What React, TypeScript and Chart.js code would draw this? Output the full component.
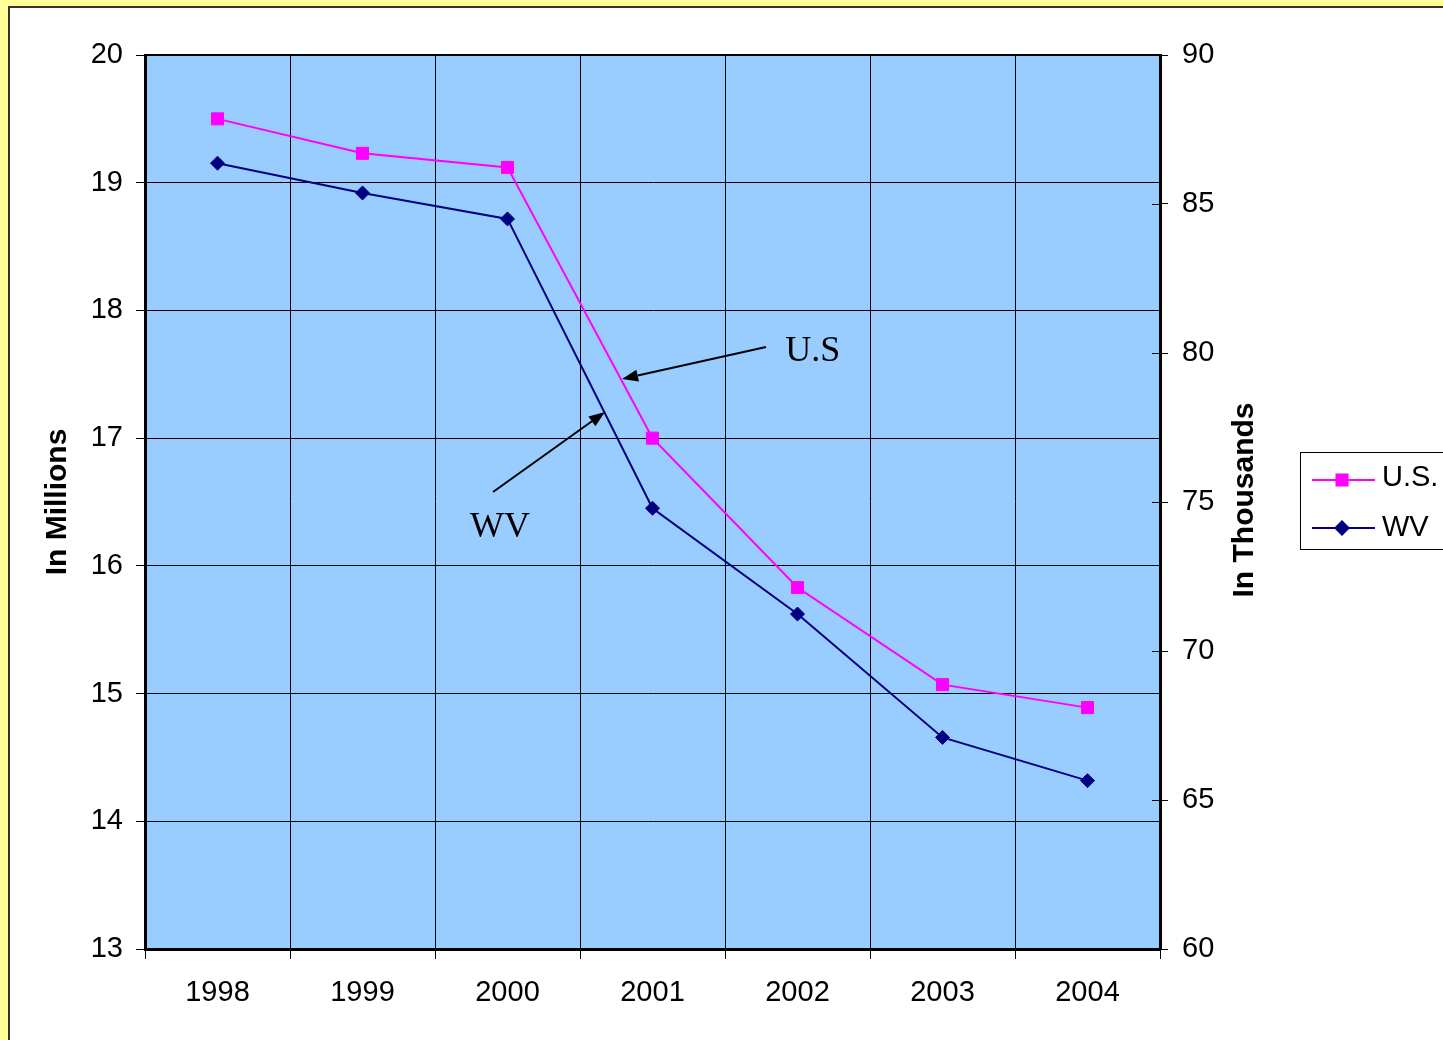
import React, { useEffect, useRef } from "react";
import { Chart, registerables } from "chart.js";

Chart.register(...registerables);

// ---- data ----
const years = ["1998", "1999", "2000", "2001", "2002", "2003", "2004"];
const usValues = [19.5, 19.23, 19.12, 17.0, 15.83, 15.07, 14.89]; // millions
const wvValues = [86.37, 85.37, 84.5, 74.79, 71.24, 67.1, 65.65]; // thousands
const seriesLabels = ["U.S.", "WV"];
const leftRange = [13, 20, 1];
const rightRange = [60, 90, 5];
const axisTitles = ["In Millions", "In Thousands"];
// call-out notes, in data units: [category index, left-axis value]
const noteTexts = ["U.S", "WV"];
const noteTextAt = [
  [3.915, 17.604],
  [1.742, 16.226],
];
const noteArrowFrom = [
  [3.783, 17.714],
  [1.9, 16.578],
];
const noteArrowTo = [
  [2.79, 17.463],
  [2.672, 17.205],
];

const SANS = "'Liberation Sans', Arial, sans-serif";
const SERIF = "'Liberation Serif', 'Times New Roman', serif";
const US_COLOR = "#FF00FF";
const WV_COLOR = "#000080";

const pagePlugin = {
  id: "pagePlugin",
  beforeDraw(chart: any) {
    const { ctx, width, height, chartArea: ca } = chart;
    ctx.save();
    ctx.fillStyle = "#FFFF99";
    ctx.fillRect(0, 0, width, height);
    ctx.fillStyle = "#FFFFFF";
    ctx.fillRect(8, 6, width - 8, height - 6);
    ctx.fillStyle = "#333333";
    ctx.fillRect(8, 6, width - 8, 2);
    ctx.fillRect(8, 6, 2, height - 6);
    ctx.fillStyle = "#99CCFF";
    ctx.fillRect(ca.left, ca.top, ca.right - ca.left, ca.bottom - ca.top);
    ctx.restore();
  },
  afterDraw(chart: any) {
    const { ctx, chartArea: ca } = chart;
    const xs = chart.scales.x;
    const ys = chart.scales.y;
    const y1 = chart.scales.y1;
    ctx.save();
    // top border
    ctx.fillStyle = "#000";
    ctx.fillRect(ca.left - 1, ca.top - 1, ca.right - ca.left + 2, 2);
    // inner tick marks on right axis
    ctx.strokeStyle = "#000";
    ctx.lineWidth = 1;
    y1.ticks.forEach((t: any) => {
      const py = Math.round(y1.getPixelForValue(t.value)) + 0.5;
      ctx.beginPath();
      ctx.moveTo(ca.right - 8, py);
      ctx.lineTo(ca.right, py);
      ctx.stroke();
    });
    // right axis title
    ctx.fillStyle = "#000";
    ctx.font = `bold 30px ${SANS}`;
    ctx.textAlign = "center";
    ctx.textBaseline = "middle";
    ctx.translate(1244.5, (ca.top + ca.bottom) / 2 - 2);
    ctx.rotate(-Math.PI / 2);
    ctx.fillText(axisTitles[1], 0, 0);
    ctx.setTransform(1, 0, 0, 1, 0, 0);

    // call-outs
    const px = (p: number[]) => [xs.getPixelForValue(p[0]), ys.getPixelForValue(p[1])];
    ctx.font = `36px ${SERIF}`;
    ctx.textAlign = "left";
    ctx.textBaseline = "alphabetic";
    noteTexts.forEach((txt, i) => {
      const [tx, ty] = px(noteTextAt[i]);
      ctx.fillStyle = "#000";
      ctx.fillText(txt, tx, ty);
      const [fx, fy] = px(noteArrowFrom[i]);
      const [ex, ey] = px(noteArrowTo[i]);
      const ang = Math.atan2(ey - fy, ex - fx);
      const headLen = 16;
      const headW = 6;
      const bx = ex - Math.cos(ang) * headLen;
      const by = ey - Math.sin(ang) * headLen;
      ctx.strokeStyle = "#000";
      ctx.lineWidth = 2;
      ctx.beginPath();
      ctx.moveTo(fx, fy);
      ctx.lineTo(bx, by);
      ctx.stroke();
      ctx.beginPath();
      ctx.moveTo(ex, ey);
      ctx.lineTo(bx + Math.sin(ang) * headW, by - Math.cos(ang) * headW);
      ctx.lineTo(bx - Math.sin(ang) * headW, by + Math.cos(ang) * headW);
      ctx.closePath();
      ctx.fill();
    });

    // legend
    const lx = ca.right + 140;
    const ly = 452;
    ctx.strokeStyle = "#000";
    ctx.lineWidth = 1;
    ctx.strokeRect(lx + 0.5, ly + 0.5, 200, 97);
    const rows = [480, 528];
    ctx.font = `29px ${SANS}`;
    ctx.textAlign = "left";
    ctx.textBaseline = "alphabetic";
    chart.data.datasets.forEach((ds: any, i: number) => {
      const ry = rows[i];
      ctx.strokeStyle = ds.borderColor;
      ctx.lineWidth = 2;
      ctx.beginPath();
      ctx.moveTo(lx + 12, ry);
      ctx.lineTo(lx + 75, ry);
      ctx.stroke();
      ctx.fillStyle = ds.backgroundColor;
      const cx = lx + 42;
      if (ds.pointStyle === "rect") {
        ctx.fillRect(cx - 6.5, ry - 6.5, 13, 13);
      } else {
        ctx.beginPath();
        ctx.moveTo(cx, ry - 8);
        ctx.lineTo(cx + 8, ry);
        ctx.lineTo(cx, ry + 8);
        ctx.lineTo(cx - 8, ry);
        ctx.closePath();
        ctx.fill();
      }
      ctx.fillStyle = "#000";
      ctx.fillText(ds.label, lx + 82, ry + 6 + i * 2);
    });
    ctx.restore();
  },
};

export default function App() {
  const ref = useRef<HTMLCanvasElement | null>(null);
  useEffect(() => {
    document.body.style.margin = "0";
    Chart.defaults.font.family = SANS;
    const canvas = ref.current!;
    const chart = new Chart(canvas, {
      type: "line",
      data: {
        labels: years,
        datasets: [
          {
            label: seriesLabels[0],
            data: usValues,
            yAxisID: "y",
            borderColor: US_COLOR,
            backgroundColor: US_COLOR,
            borderWidth: 2,
            pointStyle: "rect",
            pointRadius: 8.5,
            pointBorderWidth: 1,
            pointHoverRadius: 8.5,
            tension: 0,
          },
          {
            label: seriesLabels[1],
            data: wvValues,
            yAxisID: "y1",
            borderColor: WV_COLOR,
            backgroundColor: WV_COLOR,
            borderWidth: 2,
            pointStyle: "rectRot",
            pointRadius: 7,
            pointBorderWidth: 1,
            pointHoverRadius: 7,
            tension: 0,
          },
        ],
      },
      options: {
        responsive: false,
        animation: false,
        devicePixelRatio: 1,
        events: [],
        layout: { padding: { top: 55, left: 0, right: 0, bottom: 0 } },
        plugins: {
          legend: { display: false },
          tooltip: { enabled: false },
          title: { display: false },
        },
        scales: {
          x: {
            type: "category",
            offset: true,
            grid: {
              offset: true,
              color: "#000",
              lineWidth: 1,
              tickLength: 10,
              drawOnChartArea: true,
            },
            border: { color: "#000", width: 3 },
            ticks: {
              color: "#000",
              font: { size: 29 },
              padding: 17,
              maxRotation: 0,
              autoSkip: false,
            },
            afterFit: (s: any) => {
              s.height = 91;
            },
          },
          y: {
            position: "left",
            min: leftRange[0],
            max: leftRange[1],
            ticks: {
              stepSize: leftRange[2],
              color: "#000",
              font: { size: 29 },
              padding: 13,
            },
            grid: { color: "#000", lineWidth: 1, tickLength: 9 },
            border: { color: "#000", width: 3 },
            title: {
              display: true,
              text: axisTitles[0],
              color: "#000",
              font: { size: 30, weight: "bold" },
              padding: { top: 40, bottom: 0 },
            },
            afterFit: (s: any) => {
              s.width = 145;
            },
          },
          y1: {
            position: "right",
            min: rightRange[0],
            max: rightRange[1],
            ticks: {
              stepSize: rightRange[2],
              color: "#000",
              font: { size: 29 },
              padding: 14,
            },
            grid: {
              drawOnChartArea: false,
              color: "#000",
              lineWidth: 1,
              tickLength: 8,
            },
            border: { color: "#000", width: 3 },
            afterFit: (s: any) => {
              s.width = 283;
            },
          },
        },
      },
      plugins: [pagePlugin],
    } as any);
    return () => chart.destroy();
  }, []);
  return (
    <div style={{ width: 1443, height: 1040, overflow: "hidden" }}>
      <canvas ref={ref} width={1443} height={1040} style={{ display: "block" }} />
    </div>
  );
}
